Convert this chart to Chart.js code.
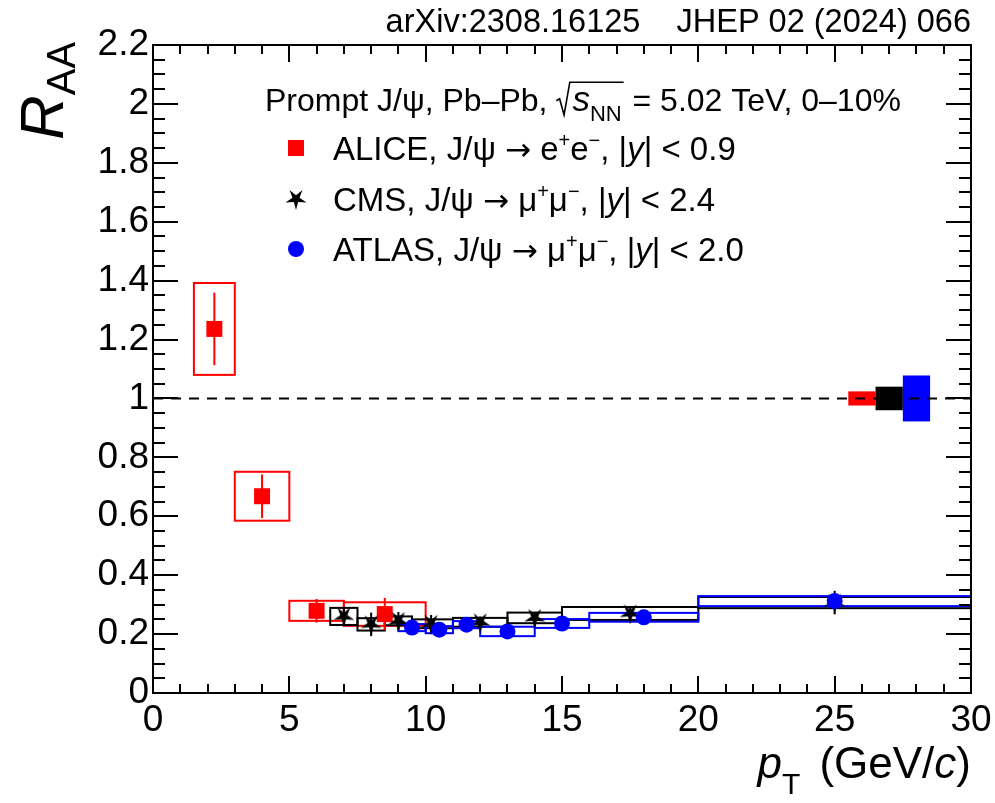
<!DOCTYPE html>
<html lang="en">
<head>
<meta charset="UTF-8" />
<title>Prompt J/psi RAA vs pT</title>
<style>
  html, body { margin: 0; padding: 0; background: #fff; overflow: hidden; }
  #wrap { width: 995px; height: 803px; position: relative; }
</style>
</head>
<body>
<div id="wrap"><canvas id="raa"></canvas></div>
<script src="https://cdn.jsdelivr.net/npm/chart.js@4.4.0/dist/chart.umd.min.js"></script>
<script>
// ALICE, J/psi -> e+e-, |y| < 0.9
const alicePt   = [2.25, 4.0, 6.0, 8.5];
const aliceLo   = [1.5, 3, 5, 7];
const aliceHi   = [3, 5, 7, 10];
const aliceR    = [1.236, 0.668, 0.279, 0.268];
const aliceStat = [0.123, 0.074, 0.04, 0.055];
const aliceSyst = [0.156, 0.083, 0.034, 0.04];

// CMS, J/psi -> mu+mu-, |y| < 2.4
const cmsPt   = [7.0, 8.0, 9.0, 10.2, 12.0, 14.0, 17.5, 25.0];
const cmsLo   = [6.5, 7.5, 8.5, 9.5, 11, 13, 15, 20];
const cmsHi   = [7.5, 8.5, 9.5, 11, 13, 15, 20, 30];
const cmsR    = [0.26, 0.233, 0.245, 0.235, 0.24, 0.255, 0.27, 0.307];
const cmsStat = [0.03, 0.04, 0.03, 0.03, 0.02, 0.02, 0.02, 0.04];
const cmsSyst = [0.029, 0.021, 0.015, 0.015, 0.015, 0.018, 0.022, 0.019];

// ATLAS, J/psi -> mu+mu-, |y| < 2.0
const atlasPt   = [9.5, 10.5, 11.5, 13.0, 15.0, 18.0, 25.0];
const atlasLo   = [9, 10, 11, 12, 14, 16, 20];
const atlasHi   = [10, 11, 12, 14, 16, 20, 30];
const atlasR    = [0.222, 0.215, 0.232, 0.209, 0.236, 0.257, 0.312];
const atlasStat = [0.01, 0.01, 0.01, 0.01, 0.01, 0.012, 0.015];
const atlasSyst = [0.012, 0.012, 0.012, 0.016, 0.015, 0.015, 0.017];

// global (normalisation) uncertainties drawn at R_AA = 1: ALICE, CMS, ATLAS
const globalLo  = [25.5, 26.5, 27.5];
const globalHi  = [26.5, 27.5, 28.5];
const globalUnc = [0.024, 0.04, 0.078];

const RED = '#ff0000', BLUE = '#0000ff', BLACK = '#000000';
const FONT = '"Liberation Sans", Arial, sans-serif';
const ARROW_FONT = '"DejaVu Sans", sans-serif';

function points(xs, ys) {
    return xs.map((x, i) => ({ x: x, y: ys[i] }));
}

// filled star with one tip pointing down
function starImage(size, color) {
    const c = document.createElement('canvas');
    c.width = c.height = size;
    const g = c.getContext('2d');
    const r1 = size / 2, r2 = size * 0.17;
    g.beginPath();
    for (let i = 0; i < 10; i++) {
        const a = Math.PI / 2 + i * Math.PI / 5;
        const r = i % 2 ? r2 : r1;
        g.lineTo(size / 2 + r * Math.cos(a), size / 2 + r * Math.sin(a));
    }
    g.closePath();
    g.fillStyle = color;
    g.fill();
    return c;
}
const starPoint = starImage(22, BLACK);

// text made of pieces: {t, s: size factor, dy: shift factor, i: italic, f: family}
function drawRich(ctx, x, y, size, segs) {
    for (const seg of segs) {
        const fs = Math.round(size * (seg.s || 1));
        ctx.font = (seg.i ? 'italic ' : '') + fs + 'px ' + (seg.f || FONT);
        ctx.fillText(seg.t, x, y + (seg.dy || 0) * size);
        x += ctx.measureText(seg.t).width;
    }
    return x;
}

function drawBoxes(ctx, xs, ys, lo, hi, val, err, color) {
    ctx.strokeStyle = color;
    ctx.lineWidth = 2;
    for (let i = 0; i < val.length; i++) {
        const x0 = xs.getPixelForValue(lo[i]), x1 = xs.getPixelForValue(hi[i]);
        const y0 = ys.getPixelForValue(val[i] + err[i]), y1 = ys.getPixelForValue(val[i] - err[i]);
        ctx.strokeRect(x0, y0, x1 - x0, y1 - y0);
    }
}

function drawStat(ctx, xs, ys, pt, val, err, color) {
    ctx.strokeStyle = color;
    ctx.lineWidth = 2;
    for (let i = 0; i < val.length; i++) {
        const px = xs.getPixelForValue(pt[i]);
        ctx.beginPath();
        ctx.moveTo(px, ys.getPixelForValue(val[i] - err[i]));
        ctx.lineTo(px, ys.getPixelForValue(val[i] + err[i]));
        ctx.stroke();
    }
}

const globalColors = [RED, BLACK, BLUE];

const decor = {
    id: 'decor',
    beforeDatasetsDraw(chart) {
        const ctx = chart.ctx, xs = chart.scales.x, ys = chart.scales.y;
        const a = chart.chartArea;
        ctx.save();
        drawBoxes(ctx, xs, ys, aliceLo, aliceHi, aliceR, aliceSyst, RED);
        drawBoxes(ctx, xs, ys, cmsLo, cmsHi, cmsR, cmsSyst, BLACK);
        drawBoxes(ctx, xs, ys, atlasLo, atlasHi, atlasR, atlasSyst, BLUE);
        drawStat(ctx, xs, ys, alicePt, aliceR, aliceStat, RED);
        drawStat(ctx, xs, ys, cmsPt, cmsR, cmsStat, BLACK);
        drawStat(ctx, xs, ys, atlasPt, atlasR, atlasStat, BLUE);

        // filled global uncertainty boxes
        for (let i = 0; i < globalUnc.length; i++) {
            const x0 = xs.getPixelForValue(globalLo[i]), x1 = xs.getPixelForValue(globalHi[i]);
            const y0 = ys.getPixelForValue(1 + globalUnc[i]), y1 = ys.getPixelForValue(1 - globalUnc[i]);
            ctx.fillStyle = globalColors[i];
            ctx.fillRect(x0, y0, x1 - x0, y1 - y0);
        }

        // line at unity
        ctx.strokeStyle = BLACK;
        ctx.lineWidth = 2;
        ctx.setLineDash([10, 8]);
        ctx.beginPath();
        ctx.moveTo(a.left, ys.getPixelForValue(1));
        ctx.lineTo(a.right, ys.getPixelForValue(1));
        ctx.stroke();
        ctx.restore();
    },
    afterDraw(chart) {
        const ctx = chart.ctx, xs = chart.scales.x, ys = chart.scales.y;
        const a = chart.chartArea;
        ctx.save();

        // frame and inward ticks
        ctx.strokeStyle = BLACK;
        ctx.lineWidth = 2;
        ctx.strokeRect(a.left, a.top, a.right - a.left, a.bottom - a.top);
        ctx.beginPath();
        for (let v = 0; v <= 30; v++) {
            const px = Math.round(xs.getPixelForValue(v));
            const len = v % 5 === 0 ? 17 : 9;
            ctx.moveTo(px, a.bottom); ctx.lineTo(px, a.bottom - len);
            ctx.moveTo(px, a.top); ctx.lineTo(px, a.top + len);
        }
        for (let i = 0; i <= 44; i++) {
            const py = Math.round(ys.getPixelForValue(i * 0.05));
            const len = i % 4 === 0 ? 25 : 12;
            ctx.moveTo(a.left, py); ctx.lineTo(a.left + len, py);
            ctx.moveTo(a.right, py); ctx.lineTo(a.right - len, py);
        }
        ctx.stroke();

        ctx.fillStyle = BLACK;
        ctx.textBaseline = 'alphabetic';

        // publication reference
        ctx.font = '32.5px ' + FONT;
        ctx.textAlign = 'right';
        ctx.fillText('arXiv:2308.16125    JHEP 02 (2024) 066', a.right, 32);
        ctx.textAlign = 'left';

        // y title, rotated
        ctx.save();
        ctx.translate(63, 140);
        ctx.rotate(-Math.PI / 2);
        drawRich(ctx, 0, 0, 62, [{ t: 'R', i: true }, { t: 'AA', s: 0.64, dy: 0.19 }]);
        ctx.restore();

        // x title
        ctx.font = '44px ' + FONT;
        const tail = ctx.measureText('(GeV/').width;
        ctx.font = 'italic 44px ' + FONT;
        const cw = ctx.measureText('c').width;
        ctx.font = '44px ' + FONT;
        const pw = ctx.measureText(')').width;
        const startTail = a.right - pw - cw - tail;
        drawRich(ctx, startTail - 62, 778, 44, [{ t: 'p', i: true }, { t: 'T', s: 0.68, dy: 0.36 }]);
        drawRich(ctx, startTail, 778, 44, [{ t: '(GeV/' }, { t: 'c', i: true }, { t: ')' }]);

        // header line with sqrt(s_NN)
        const hs = 32, hy = 111;
        let x = drawRich(ctx, 265, hy, hs, [{ t: 'Prompt J/\u03c8, Pb\u2013Pb, ' }]);
        const rx = x;
        x += hs * 0.5;
        x = drawRich(ctx, x, hy, hs, [{ t: 's', i: true, s: 1.1 }, { t: 'NN', s: 0.68, dy: 0.3 }]);
        ctx.lineWidth = 1.6;
        ctx.beginPath();
        ctx.moveTo(rx, hy - hs * 0.32);
        ctx.lineTo(rx + hs * 0.1, hy - hs * 0.38);
        ctx.lineTo(rx + hs * 0.24, hy + hs * 0.12);
        ctx.lineTo(rx + hs * 0.42, hy - hs * 0.9);
        ctx.lineTo(x + 2, hy - hs * 0.9);
        ctx.stroke();
        drawRich(ctx, x + 2, hy, hs, [{ t: ' = 5.02 TeV, 0\u201310%' }]);

        // legend rows
        const lx = 296, tx = 333, ls = 32.5;
        const arrow = { t: '\u2192', f: ARROW_FONT, s: 0.95 };
        const rows = [
            { y: 148, segs: [{ t: 'ALICE, J/\u03c8 ' }, arrow, { t: ' e' }, { t: '+', s: 0.6, dy: -0.4 }, { t: 'e' }, { t: '\u2212', s: 0.6, dy: -0.4 }, { t: ', |' }, { t: 'y', i: true }, { t: '| < 0.9' }] },
            { y: 199, segs: [{ t: 'CMS, J/\u03c8 ' }, arrow, { t: ' \u03bc' }, { t: '+', s: 0.6, dy: -0.4 }, { t: '\u03bc' }, { t: '\u2212', s: 0.6, dy: -0.4 }, { t: ', |' }, { t: 'y', i: true }, { t: '| < 2.4' }] },
            { y: 249, segs: [{ t: 'ATLAS, J/\u03c8 ' }, arrow, { t: ' \u03bc' }, { t: '+', s: 0.6, dy: -0.4 }, { t: '\u03bc' }, { t: '\u2212', s: 0.6, dy: -0.4 }, { t: ', |' }, { t: 'y', i: true }, { t: '| < 2.0' }] }
        ];
        rows.forEach(r => drawRich(ctx, tx, r.y + 12, ls, r.segs));
        ctx.fillStyle = RED;
        ctx.fillRect(lx - 8, rows[0].y - 8, 16, 16);
        ctx.drawImage(starPoint, lx - 11, rows[1].y - 11);
        ctx.fillStyle = BLUE;
        ctx.beginPath();
        ctx.arc(lx, rows[2].y, 8, 0, Math.PI * 2);
        ctx.fill();
        ctx.restore();
    }
};

new Chart(document.getElementById('raa'), {
    type: 'scatter',
    data: {
        datasets: [
            {
                label: 'ALICE',
                data: points(alicePt, aliceR),
                pointStyle: 'rect',
                pointRadius: 11.3,
                backgroundColor: RED,
                borderWidth: 0,
                order: 2
            },
            {
                label: 'CMS',
                data: points(cmsPt, cmsR),
                pointStyle: starPoint,
                backgroundColor: BLACK,
                order: 1
            },
            {
                label: 'ATLAS',
                data: points(atlasPt, atlasR),
                pointStyle: 'circle',
                pointRadius: 8,
                backgroundColor: BLUE,
                borderWidth: 0,
                order: 0
            }
        ]
    },
    options: {
        responsive: true,
        maintainAspectRatio: false,
        animation: false,
        devicePixelRatio: 1,
        layout: { padding: { top: 45, right: 24, left: 0, bottom: 0 } },
        plugins: {
            legend: { display: false },
            tooltip: { enabled: false }
        },
        scales: {
            x: {
                type: 'linear',
                min: 0,
                max: 30,
                afterFit: (s) => { s.height = 110; s.paddingLeft = 0; s.paddingRight = 0; },
                grid: { display: false, drawTicks: false },
                border: { display: false },
                ticks: {
                    stepSize: 5,
                    autoSkip: false,
                    maxRotation: 0,
                    padding: 6,
                    color: BLACK,
                    font: { family: FONT, size: 37 }
                }
            },
            y: {
                min: 0,
                max: 2.2,
                afterFit: (s) => { s.width = 153; s.paddingTop = 0; s.paddingBottom = 0; },
                grid: { display: false, drawTicks: false },
                border: { display: false },
                ticks: {
                    stepSize: 0.2,
                    padding: 4,
                    color: BLACK,
                    font: { family: FONT, size: 37 },
                    callback: (v) => String(Number(v.toFixed(1)))
                }
            }
        }
    },
    plugins: [decor]
});
</script>
</body>
</html>
